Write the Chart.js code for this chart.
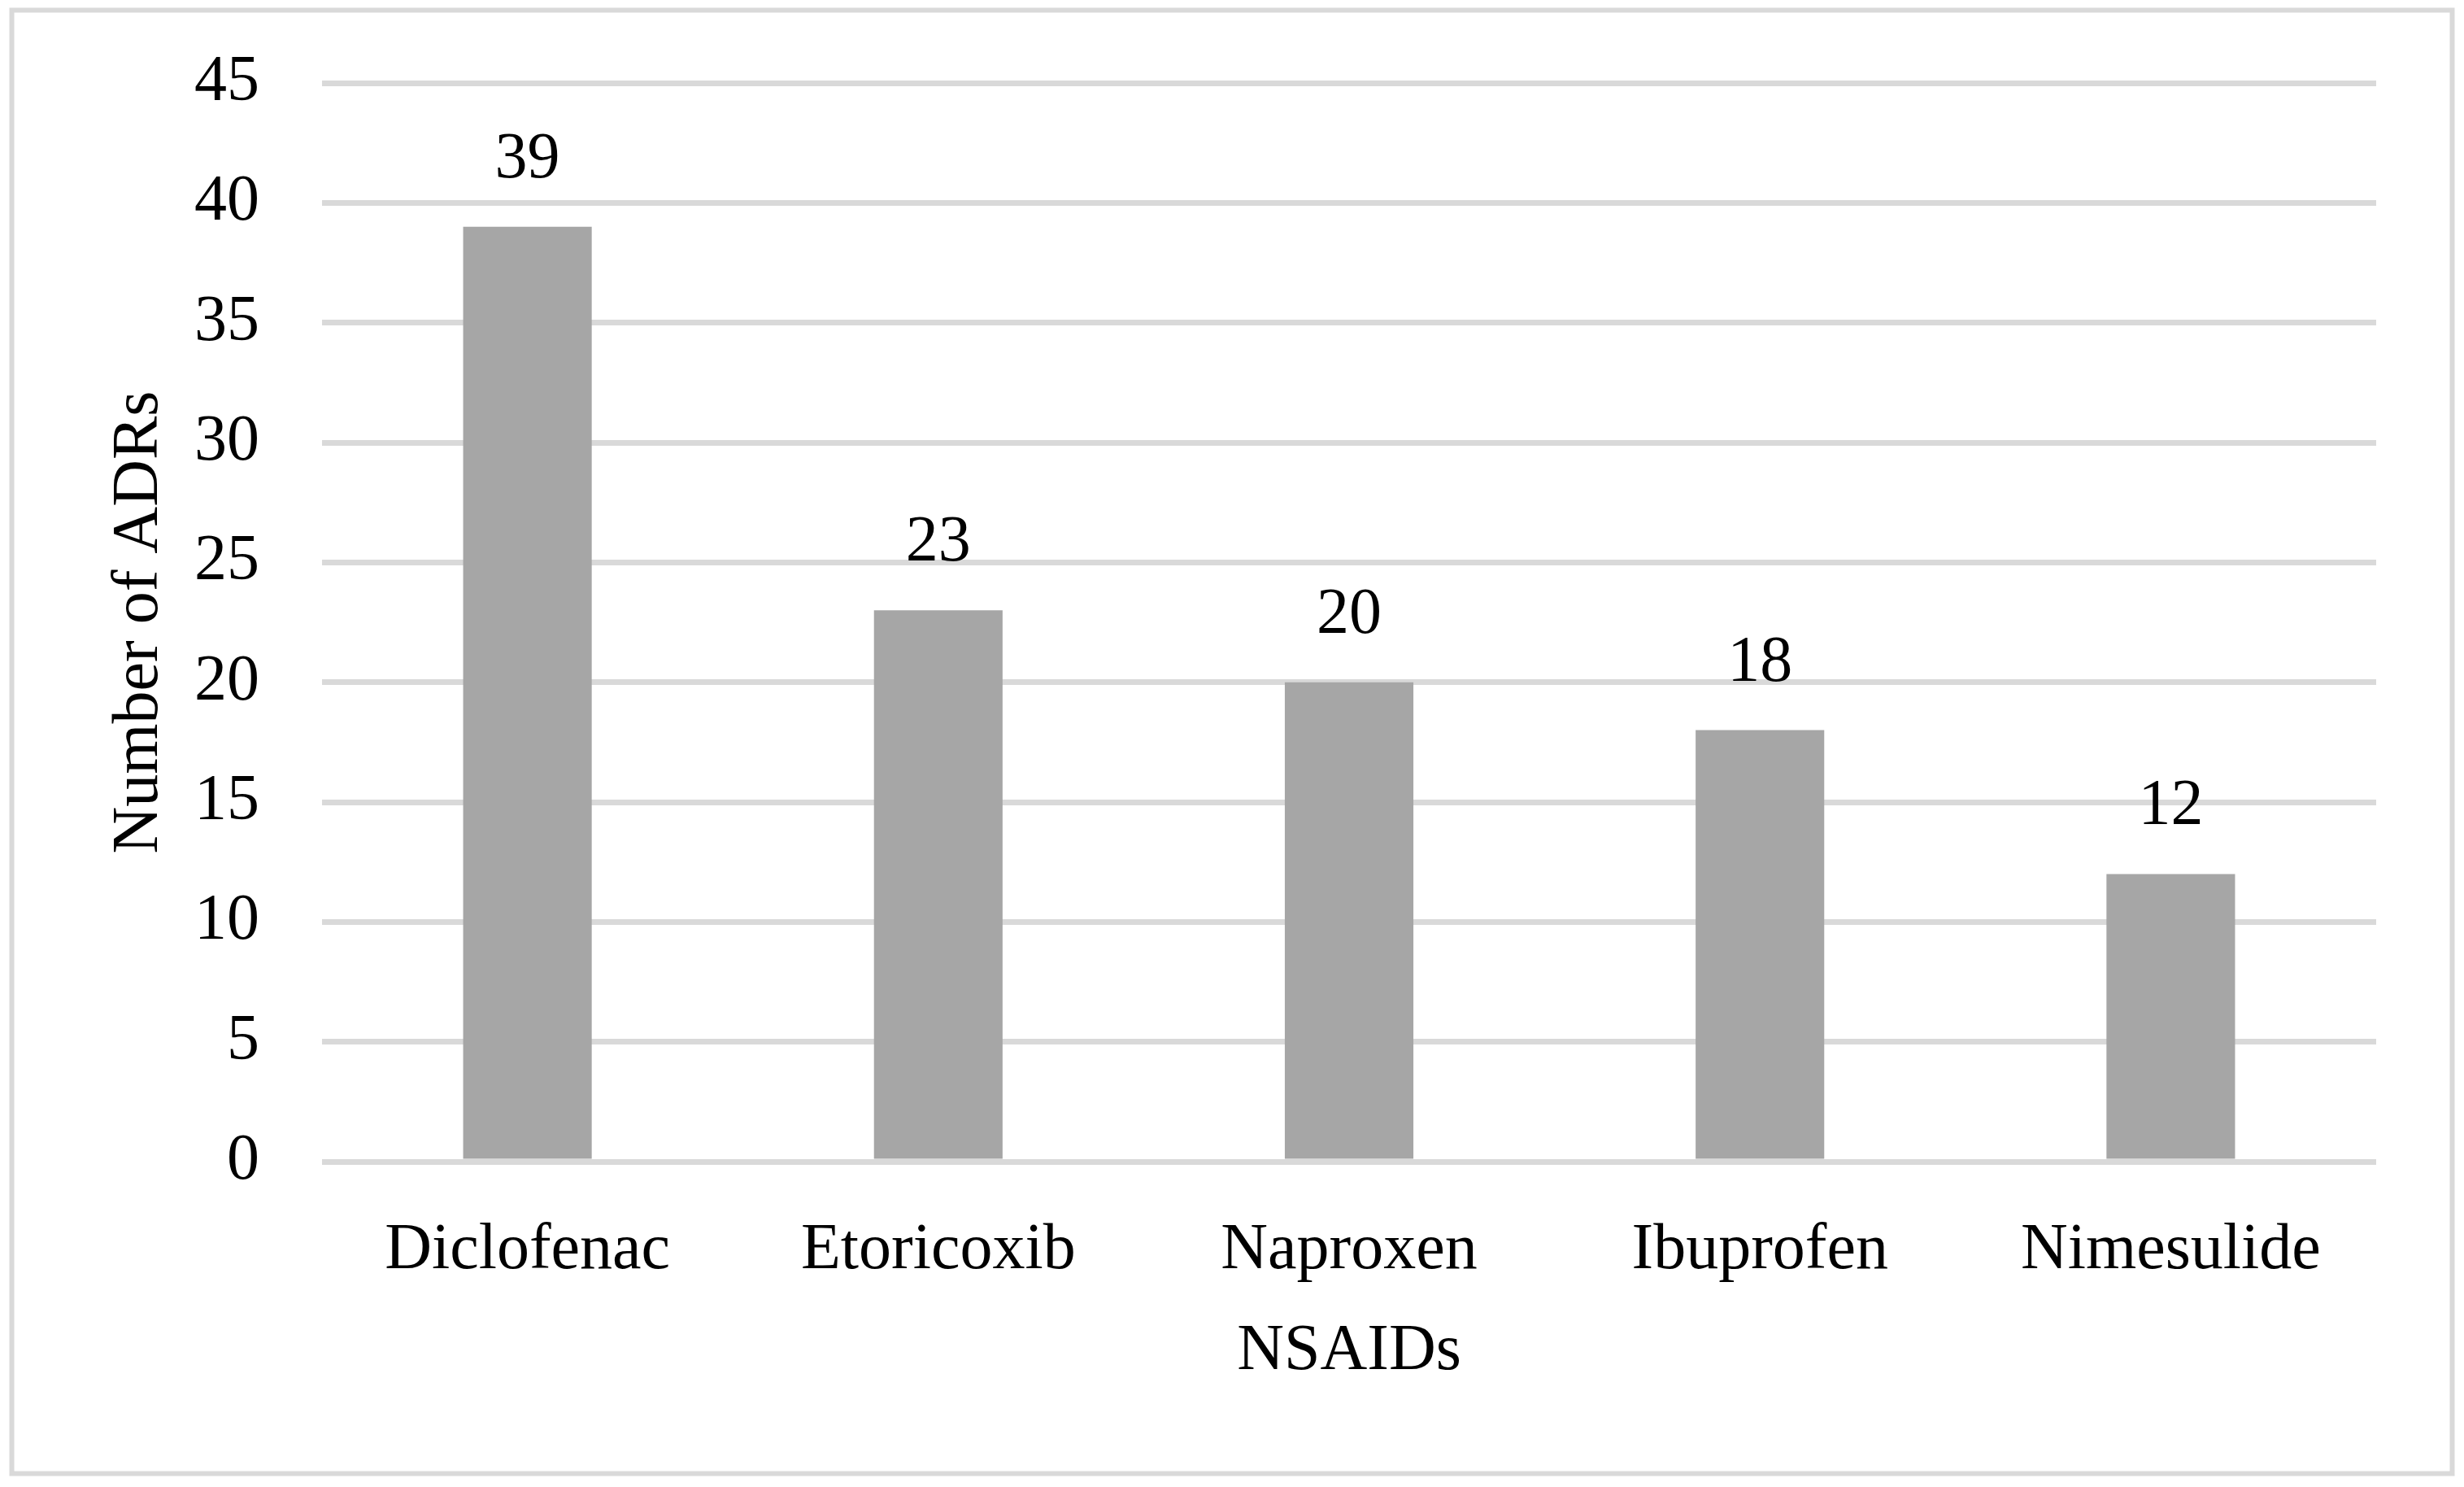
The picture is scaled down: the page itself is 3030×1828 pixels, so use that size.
<!DOCTYPE html>
<html>
<head>
<meta charset="utf-8">
<title>Number of ADRs by NSAID</title>
<script src="https://cdn.jsdelivr.net/npm/chart.js@4/dist/chart.umd.min.js"></script>
<style>
    html, body { margin: 0; padding: 0; background: #ffffff; }
    #wrap { width: 3030px; height: 1828px; position: relative; }
</style>
</head>
<body>
<div id="wrap"><canvas id="adrChart" width="3030" height="1828"></canvas></div>
<script>
// ============ DATA ============
const drugs = ["Diclofenac", "Etoricoxib", "Naproxen", "Ibuprofen", "Nimesulide"];
const adrCounts = [39, 23, 20, 18, 12];
const yTicks = [0, 5, 10, 15, 20, 25, 30, 35, 40, 45];

const FONT = "'Liberation Serif', 'Times New Roman', serif";
const GRID = "#d9d9d9";
const BAR = "#a6a6a6";

// outer frame around the whole figure
const framePlugin = {
    id: "frame",
    beforeDraw(chart) {
        const ctx = chart.ctx;
        ctx.save();
        ctx.fillStyle = "#ffffff";
        ctx.fillRect(0, 0, chart.width, chart.height);
        ctx.strokeStyle = GRID;
        ctx.lineWidth = 6;
        ctx.strokeRect(14.5, 12.5, 3001, 1799);
        ctx.restore();
    }
};

// value labels above each bar
const valueLabels = {
    id: "valueLabels",
    afterDatasetsDraw(chart) {
        const ctx = chart.ctx;
        const meta = chart.getDatasetMeta(0);
        ctx.save();
        ctx.font = "80px " + FONT;
        ctx.fillStyle = "#000000";
        ctx.textAlign = "center";
        ctx.textBaseline = "middle";
        meta.data.forEach((bar, i) => {
            ctx.fillText(String(adrCounts[i]), bar.x, bar.y - 82);
        });
        ctx.restore();
    }
};

new Chart(document.getElementById("adrChart"), {
    type: "bar",
    data: {
        labels: drugs,
        datasets: [{
            data: adrCounts,
            backgroundColor: BAR,
            borderWidth: 0,
            categoryPercentage: 1,
            barPercentage: 0.313,
        }]
    },
    options: {
        responsive: false,
        animation: false,
        devicePixelRatio: 1,
        layout: { padding: { left: 0, right: 108, top: 102, bottom: 0 } },
        plugins: {
            legend: { display: false },
            tooltip: { enabled: false }
        },
        scales: {
            x: {
                grid: { display: false, drawTicks: false },
                border: { display: false },
                ticks: {
                    color: "#000000",
                    font: { family: FONT, size: 80 },
                    padding: 62,
                    maxRotation: 0,
                },
                title: {
                    display: true,
                    text: "NSAIDs",
                    color: "#000000",
                    font: { family: FONT, size: 80 },
                    padding: { top: 0, bottom: 118 }
                },
                afterFit(scale) { scale.height = 1828 - 1428; }
            },
            y: {
                min: 0,
                max: 45,
                afterBuildTicks(scale) { scale.ticks = yTicks.map(v => ({ value: v })); },
                grid: { color: GRID, lineWidth: 7, drawTicks: false },
                border: { display: false },
                ticks: {
                    color: "#000000",
                    font: { family: FONT, size: 80 },
                    padding: 77,
                },
                title: {
                    display: true,
                    text: "Number of ADRs",
                    color: "#000000",
                    font: { family: FONT, size: 80 },
                    padding: { top: 124, bottom: 0 }
                },
                afterFit(scale) {
                    scale.width = 396;
                    // tick padding should not push the plot area down
                    scale.paddingTop = 0;
                    scale.paddingBottom = 0;
                }
            }
        }
    },
    plugins: [framePlugin, valueLabels]
});
</script>
</body>
</html>
